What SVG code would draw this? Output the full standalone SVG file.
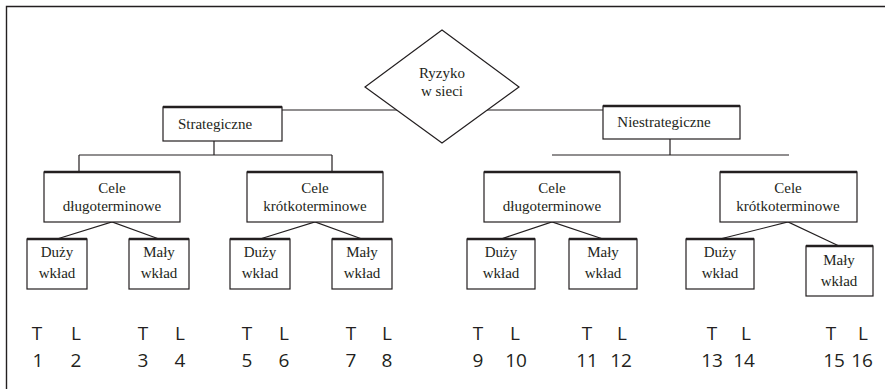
<svg xmlns="http://www.w3.org/2000/svg" width="885" height="389" viewBox="0 0 885 389">
<style>
.b{fill:#fff;stroke:#231f20;stroke-width:1.2}
.tp{stroke:#231f20;stroke-width:2.4}
.c{fill:none;stroke:#231f20;stroke-width:1.2}
.t{font-family:"Liberation Serif",serif;font-size:15px;fill:#231f20;text-anchor:middle}
.n{font-family:"Open Sans","Noto Sans",sans-serif;font-size:19px;fill:#231f20;text-anchor:middle}
</style>
<rect width="885" height="389" fill="#fff"/>
<path d="M6.5,389 V6.5 H885" fill="none" stroke="#231f20" stroke-width="1.4"/>
<g id="connectors" class="c">
<path d="M282,110 H402 M482,110 H603"/>
<path d="M214,141 V155 M79,155 H332 M79,155 V172 M332,155 V172"/>
<path d="M670,139 V155 M552,155 H789"/>
<path d="M57,239 L112,222 L159,239 M260,239 L315,222 L362,239"/>
<path d="M501,239 L552,222 L603,239 M720,239 L788,222 L839,246"/>
</g>
<g id="ryzyko">
<polygon class="b" points="442,30 519,87 442,143 365,87"/>
<text class="t" x="442" y="78">Ryzyko</text>
<text class="t" x="442" y="96">w sieci</text>
</g>
<g id="strategiczne">
<rect class="b" x="163" y="107" width="119" height="34"/>
<path class="tp" d="M163,107 H282"/>
<text class="t" x="215" y="129">Strategiczne</text>
</g>
<g id="niestrategiczne">
<rect class="b" x="603" y="106" width="137" height="33"/>
<path class="tp" d="M603,106 H740"/>
<text class="t" x="664" y="127">Niestrategiczne</text>
</g>
<g id="cele-dl-1">
<rect class="b" x="44" y="172" width="136" height="50"/>
<path class="tp" d="M44,172 H180"/>
<text class="t" x="112" y="193">Cele</text>
<text class="t" x="112" y="211">długoterminowe</text>
</g>
<g id="cele-kr-1">
<rect class="b" x="247" y="172" width="136" height="50"/>
<path class="tp" d="M247,172 H383"/>
<text class="t" x="315" y="193">Cele</text>
<text class="t" x="315" y="211">krótkoterminowe</text>
</g>
<g id="cele-dl-2">
<rect class="b" x="484" y="172" width="136" height="50"/>
<path class="tp" d="M484,172 H620"/>
<text class="t" x="552" y="193">Cele</text>
<text class="t" x="552" y="211">długoterminowe</text>
</g>
<g id="cele-kr-2">
<rect class="b" x="720" y="172" width="137" height="50"/>
<path class="tp" d="M720,172 H857"/>
<text class="t" x="788" y="193">Cele</text>
<text class="t" x="788" y="211">krótkoterminowe</text>
</g>
<g id="duzy-1"><rect class="b" x="27" y="239" width="60" height="50"/><path class="tp" d="M27,239 H87"/><text class="t" x="57" y="257">Duży</text><text class="t" x="57" y="278">wkład</text></g>
<g id="maly-1"><rect class="b" x="129" y="239" width="60" height="50"/><path class="tp" d="M129,239 H189"/><text class="t" x="159" y="257">Mały</text><text class="t" x="159" y="278">wkład</text></g>
<g id="duzy-2"><rect class="b" x="230" y="239" width="60" height="50"/><path class="tp" d="M230,239 H290"/><text class="t" x="260" y="257">Duży</text><text class="t" x="260" y="278">wkład</text></g>
<g id="maly-2"><rect class="b" x="332" y="239" width="60" height="50"/><path class="tp" d="M332,239 H392"/><text class="t" x="362" y="257">Mały</text><text class="t" x="362" y="278">wkład</text></g>
<g id="duzy-3"><rect class="b" x="467" y="239" width="68" height="50"/><path class="tp" d="M467,239 H535"/><text class="t" x="501" y="257">Duży</text><text class="t" x="501" y="278">wkład</text></g>
<g id="maly-3"><rect class="b" x="569" y="239" width="68" height="50"/><path class="tp" d="M569,239 H637"/><text class="t" x="603" y="257">Mały</text><text class="t" x="603" y="278">wkład</text></g>
<g id="duzy-4"><rect class="b" x="686" y="239" width="68" height="50"/><path class="tp" d="M686,239 H754"/><text class="t" x="720" y="257">Duży</text><text class="t" x="720" y="278">wkład</text></g>
<g id="maly-4"><rect class="b" x="806" y="246" width="67" height="50"/><path class="tp" d="M806,246 H873"/><text class="t" x="839" y="265">Mały</text><text class="t" x="839" y="286">wkład</text></g>
<g id="labels">
<text class="n" x="37" y="340">T</text><text class="n" x="76" y="340">L</text>
<text class="n" x="38" y="367">1</text><text class="n" x="76" y="367">2</text>
<text class="n" x="143" y="340">T</text><text class="n" x="180" y="340">L</text>
<text class="n" x="143" y="367">3</text><text class="n" x="180" y="367">4</text>
<text class="n" x="247" y="340">T</text><text class="n" x="284" y="340">L</text>
<text class="n" x="247" y="367">5</text><text class="n" x="284" y="367">6</text>
<text class="n" x="351" y="340">T</text><text class="n" x="387" y="340">L</text>
<text class="n" x="351" y="367">7</text><text class="n" x="387" y="367">8</text>
<text class="n" x="478" y="340">T</text><text class="n" x="515" y="340">L</text>
<text class="n" x="478" y="367">9</text><text class="n" x="516" y="367">10</text>
<text class="n" x="587" y="340">T</text><text class="n" x="622" y="340">L</text>
<text class="n" x="587" y="367">11</text><text class="n" x="621" y="367">12</text>
<text class="n" x="712" y="340">T</text><text class="n" x="746" y="340">L</text>
<text class="n" x="712" y="367">13</text><text class="n" x="744" y="367">14</text>
<text class="n" x="831" y="340">T</text><text class="n" x="863" y="340">L</text>
<text class="n" x="834" y="367">15</text><text class="n" x="862" y="367">16</text>
</g>
</svg>
